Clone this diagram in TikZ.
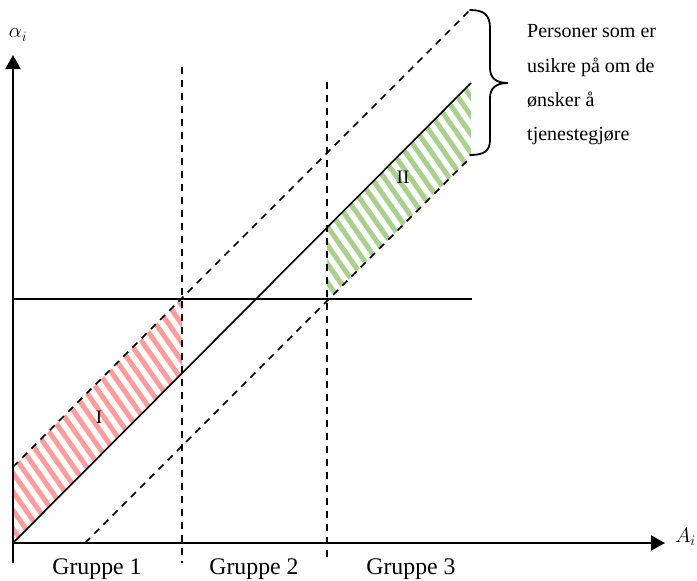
\documentclass[tikz,border=0pt]{standalone}
\usepackage{fontspec}
\setmainfont{Liberation Serif}
\usetikzlibrary{arrows.meta}
\definecolor{stripered}{HTML}{FF9C9C}
\definecolor{stripegreen}{HTML}{A9D18E}
\begin{document}
\begin{tikzpicture}[x=1pt,y=-1pt,
  axis/.style={line width=2pt,-{Triangle[length=14pt,width=15pt]}},
  guide/.style={line width=1.6pt, dash pattern=on 7pt off 6pt},
  mainline/.style={line width=1.6pt},
  stripe/.style={line width=5pt},
  grp/.style={anchor=base, inner sep=0pt, font=\fontsize{23.8}{28}\selectfont},
  note/.style={anchor=base west, inner sep=0pt, font=\fontsize{20}{24}\selectfont},
  area/.style={inner sep=0pt, font=\fontsize{19}{22}\selectfont},
  axlabel/.style={inner sep=0pt, font=\fontsize{22}{26}\selectfont},
  bracestyle/.style={line width=1.8pt, line cap=round}
]
\useasboundingbox (0,0) rectangle (697,581);

% key points
\coordinate (O) at (13,543);
\coordinate (Ybot) at (13,563);
\coordinate (Ytop) at (13,55);
\coordinate (Xend) at (665,543);
\coordinate (Send) at (471,83);
\coordinate (Ustart) at (13,467);
\coordinate (Uend) at (471,9);
\coordinate (Lstart) at (85,543);
\coordinate (Lend) at (471,157);
\coordinate (Hstart) at (13,299);
\coordinate (Hend) at (472,299);
\coordinate (V1top) at (182,67);
\coordinate (V1bot) at (182,563);
\coordinate (V2top) at (327,82);
\coordinate (V2bot) at (327,563);
\coordinate (Btop) at (470,10);
\coordinate (Btip) at (508,83);
\coordinate (Bbot) at (470,155);

% hatched area I
\begin{scope}
  \clip (13,467) -- (182,298) -- (182,374) -- (13,543) -- cycle;
  \foreach \k in {-30,...,20}
    \draw[stripe,stripered] ({13+\k*13},250) -- ++(300,429);
\end{scope}
% hatched area II
\begin{scope}
  \clip (327,229) -- (471,83) -- (471,157) -- (327,301) -- cycle;
  \foreach \k in {-25,...,20}
    \draw[stripe,stripegreen] ({327+\k*13},40) -- ++(300,429);
\end{scope}

% axes
\draw[axis] (Ybot) -- (Ytop);
\draw[axis] (O) -- (Xend);

% lines
\draw[mainline] (O) -- (Send);
\draw[mainline] (Hstart) -- (Hend);
\draw[guide] (Ustart) -- (Uend);
\draw[guide] (Lstart) -- (Lend);
\draw[guide] (V1top) -- (V1bot);
\draw[guide] (V2top) -- (V2bot);

% brace
\draw[bracestyle] (Btop) .. controls (484,10) and (490,15) .. (490,28)
  -- (490,68) .. controls (490,78) and (496,83) .. (Btip)
  .. controls (496,83) and (490,88) .. (490,98)
  -- (490,140) .. controls (490,151) and (484,155) .. (Bbot);

% labels
\node[axlabel] (alpha) at (18,35) {$\alpha_i$};
\node[axlabel, anchor=base east] (Alab) at (696,542) {$A_i$};
\node[area] (I) at (99,417) {I};
\node[area] (II) at (403,177) {II};
\node[grp] (g1) at (97,574) {Gruppe 1};
\node[grp] (g2) at (254,574) {Gruppe 2};
\node[grp] (g3) at (411,574) {Gruppe 3};
\node[note] (n1) at (527,37) {Personer som er};
\node[note] (n2) at (527,72) {usikre på om de};
\node[note] (n3) at (527,106) {ønsker å};
\node[note] (n4) at (527,140) {tjenestegjøre};
\end{tikzpicture}
\end{document}
